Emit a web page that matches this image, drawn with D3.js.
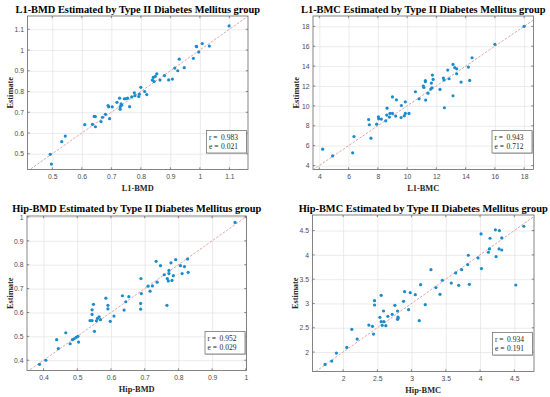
<!DOCTYPE html>
<html>
<head>
<meta charset="utf-8">
<script src="https://cdn.jsdelivr.net/npm/d3@7"></script>
<style>
  body { margin: 0; background: #fff; }
  .tick text { font-family: "Liberation Sans", Arial, sans-serif; font-size: 6.8px; fill: #4d4d4d; }
  .title { font-family: "Liberation Serif", "Times New Roman", serif; font-weight: bold; font-size: 10.4px; fill: #000; }
  .axis-label { font-family: "Liberation Serif", "Times New Roman", serif; font-weight: bold; font-size: 8.4px; fill: #262626; }
  .stat { font-family: "Liberation Serif", "Times New Roman", serif; font-size: 7.5px; fill: #262626; }
</style>
</head>
<body>
<div class="chart"></div>
<script>
// L1-BMD
const l1BmdMeasured = [1.099,1.008,0.988,0.989,1.032,0.996,0.978,0.930,0.947,0.915,0.925,0.907,0.894,0.880,0.865,0.854,0.849,0.842,0.839,0.845,0.800,0.813,0.820,0.795,0.793,0.778,0.780,0.769,0.755,0.749,0.744,0.728,0.719,0.733,0.735,0.730,0.762,0.730,0.703,0.689,0.691,0.694,0.680,0.670,0.665,0.642,0.646,0.636,0.646,0.610,0.544,0.532,0.493,0.497];
const l1BmdEstimate = [1.116,1.031,1.018,1.016,1.019,0.990,0.960,0.956,0.915,0.913,0.900,0.860,0.856,0.877,0.855,0.885,0.873,0.868,0.855,0.848,0.820,0.800,0.785,0.787,0.776,0.794,0.780,0.774,0.768,0.765,0.765,0.768,0.748,0.740,0.734,0.727,0.727,0.715,0.726,0.732,0.726,0.669,0.690,0.676,0.655,0.680,0.679,0.642,0.630,0.640,0.585,0.558,0.497,0.450];
// L1-BMC
const l1BmcMeasured = [18.0,16.0,14.44,14.19,13.14,13.26,13.39,13.39,12.78,12.87,12.48,12.53,13.69,14.28,13.14,12.55,12.25,11.73,11.78,11.66,11.70,11.62,11.43,11.25,11.25,11.11,11.15,11.27,10.82,10.57,9.88,9.61,9.27,9.0,9.88,10.13,9.81,9.59,9.22,9.0,8.83,8.79,8.63,8.61,8.54,8.04,8.06,8.24,7.92,7.42,7.37,7.53,6.37,6.28,4.91,4.23];
const l1BmcEstimate = [18.0,16.19,14.84,13.9,14.17,13.84,13.73,13.23,13.6,12.73,12.8,12.6,12.39,12.56,11.02,9.81,11.65,13.1,12.66,12.29,11.82,11.69,11.28,12.53,12.43,11.99,11.86,10.58,10.71,11.42,10.41,10.04,10.61,10.9,9.24,9.24,9.0,8.83,8.97,9.24,9.24,8.87,9.77,9.07,8.5,8.9,8.7,8.67,8.16,8.1,8.63,6.75,6.92,5.28,4.97,5.64];
// Hip-BMD
const hipBmdMeasured = [0.968,0.734,0.747,0.778,0.792,0.806,0.818,0.827,0.811,0.829,0.772,0.772,0.785,0.781,0.767,0.770,0.758,0.766,0.737,0.723,0.710,0.716,0.690,0.689,0.688,0.688,0.653,0.644,0.634,0.639,0.609,0.598,0.591,0.591,0.585,0.569,0.565,0.560,0.557,0.548,0.544,0.544,0.544,0.538,0.551,0.502,0.497,0.491,0.486,0.504,0.479,0.466,0.439,0.444,0.407,0.388];
const hipBmdEstimate = [0.977,0.814,0.796,0.808,0.821,0.796,0.792,0.824,0.763,0.768,0.776,0.763,0.754,0.734,0.742,0.732,0.758,0.630,0.727,0.711,0.710,0.689,0.679,0.742,0.638,0.614,0.666,0.645,0.670,0.610,0.585,0.563,0.630,0.615,0.660,0.570,0.582,0.575,0.565,0.634,0.611,0.592,0.566,0.566,0.521,0.500,0.496,0.490,0.486,0.476,0.469,0.515,0.486,0.449,0.400,0.383];
// Hip-BMC
const hipBmcMeasured = [4.639,4.224,4.283,4.015,4.146,4.317,4.137,4.278,4.317,4.122,4.234,3.829,3.971,3.820,4.020,3.732,3.283,3.644,3.449,3.580,3.688,3.844,4.522,3.356,3.132,3.415,3.200,3.054,2.980,2.898,2.883,2.956,2.756,2.795,2.717,2.654,2.590,2.800,2.805,2.795,2.556,2.459,2.459,2.537,2.556,2.595,2.571,2.624,2.429,2.376,2.444,3.112,2.127,2.205,2.054,1.902,1.834,1.737];
const hipBmcEstimate = [4.589,4.514,4.500,4.431,4.342,4.349,4.122,4.122,4.100,4.054,3.964,3.992,3.937,3.800,3.717,3.696,3.696,3.628,3.477,3.420,3.374,3.394,3.380,3.326,3.387,3.188,2.975,3.181,3.222,3.243,3.044,2.872,2.962,2.845,2.776,2.735,2.845,2.720,2.700,2.673,3.168,3.058,2.968,2.714,2.625,2.625,2.550,2.543,2.529,2.556,2.371,2.646,2.467,2.268,2.096,1.979,1.815,1.746];

const stats = [
  {r: '0.983', e: '0.021'},
  {r: '0.943', e: '0.712'},
  {r: '0.952', e: '0.029'},
  {r: '0.934', e: '0.191'},
];

const panels = [
  {title: 'L1-BMD Estimated by Type II Diabetes Mellitus group', xLabel: 'L1-BMD', xs: l1BmdMeasured, ys: l1BmdEstimate,
   xDomain: [0.416, 1.163], yDomain: [0.424, 1.164], ticks: d3.range(0.5, 1.15, 0.1), box: [27.5, 16, 248, 169.5], titleY: 12.5},
  {title: 'L1-BMC Estimated by Type II Diabetes Mellitus group', xLabel: 'L1-BMC', xs: l1BmcMeasured, ys: l1BmcEstimate,
   xDomain: [3.57, 18.64], yDomain: [3.6, 19.04], ticks: d3.range(4, 19, 2), box: [313, 16, 533.5, 169.5], titleY: 12.5},
  {title: 'Hip-BMD Estimated by Type II Diabetes Mellitus group', xLabel: 'Hip-BMD', xs: hipBmdMeasured, ys: hipBmdEstimate,
   xDomain: [0.351, 1.002], yDomain: [0.357, 1.004], ticks: d3.range(0.4, 1.05, 0.1), box: [27, 216, 246.5, 370.5], titleY: 211.5},
  {title: 'Hip-BMC Estimated by Type II Diabetes Mellitus group', xLabel: 'Hip-BMC', xs: hipBmcMeasured, ys: hipBmcEstimate,
   xDomain: [1.553, 4.788], yDomain: [1.60, 4.82], ticks: d3.range(2, 4.6, 0.5), box: [312.5, 215, 534, 371.5], titleY: 211.5},
];

const width = 550;
const height = 397;

const svg = d3.select('.chart').append('svg')
  .attr('width', width)
  .attr('height', height);

const fmt = d => String(+d.toFixed(2));

panels.forEach((p, i) => {
  const [x0, y0, x1, y1] = p.box;
  const x = d3.scaleLinear().domain(p.xDomain).range([x0, x1]);
  const y = d3.scaleLinear().domain(p.yDomain).range([y1, y0]);
  const g = svg.append('g');

  // grid + tick labels
  g.append('g')
    .attr('transform', `translate(0,${y1})`)
    .call(d3.axisBottom(x).tickValues(p.ticks).tickFormat(fmt).tickSize(-(y1 - y0)).tickPadding(4.5))
    .call(a => a.select('.domain').remove())
    .call(a => a.selectAll('.tick line').attr('stroke', '#e3e3e3').attr('stroke-width', 0.7));
  g.append('g')
    .attr('transform', `translate(${x0},0)`)
    .call(d3.axisLeft(y).tickValues(p.ticks).tickFormat(fmt).tickSize(-(x1 - x0)).tickPadding(3.5))
    .call(a => a.select('.domain').remove())
    .call(a => a.selectAll('.tick line').attr('stroke', '#e3e3e3').attr('stroke-width', 0.7));

  // inward tick marks on all four sides
  const tl = 2.2;
  const tickG = g.append('g').attr('stroke', '#555').attr('stroke-width', 0.7);
  p.ticks.forEach(t => {
    if (x(t) >= x0 && x(t) <= x1) {
      tickG.append('line').attr('x1', x(t)).attr('x2', x(t)).attr('y1', y1).attr('y2', y1 - tl);
      tickG.append('line').attr('x1', x(t)).attr('x2', x(t)).attr('y1', y0).attr('y2', y0 + tl);
    }
    if (y(t) >= y0 && y(t) <= y1) {
      tickG.append('line').attr('y1', y(t)).attr('y2', y(t)).attr('x1', x0).attr('x2', x0 + tl);
      tickG.append('line').attr('y1', y(t)).attr('y2', y(t)).attr('x1', x1).attr('x2', x1 - tl);
    }
  });

  // identity line
  const clipId = 'clip' + i;
  g.append('clipPath').attr('id', clipId)
    .append('rect').attr('x', x0).attr('y', y0).attr('width', x1 - x0).attr('height', y1 - y0);
  const lo = Math.min(p.xDomain[0], p.yDomain[0]);
  const hi = Math.max(p.xDomain[1], p.yDomain[1]);
  g.append('line')
    .attr('clip-path', `url(#${clipId})`)
    .attr('x1', x(lo)).attr('y1', y(lo))
    .attr('x2', x(hi)).attr('y2', y(hi))
    .attr('stroke', '#d4908f')
    .attr('stroke-width', 0.8)
    .attr('stroke-dasharray', '2.5,1.5');

  // points
  g.selectAll('.pt')
    .data(p.xs.map((v, k) => [v, p.ys[k]]))
    .enter()
    .append('circle')
    .attr('class', 'pt')
    .attr('cx', d => x(d[0]))
    .attr('cy', d => y(d[1]))
    .attr('r', 1.6)
    .attr('fill', '#1b8bcb');

  // box
  g.append('rect')
    .attr('x', x0).attr('y', y0)
    .attr('width', x1 - x0).attr('height', y1 - y0)
    .attr('fill', 'none')
    .attr('stroke', '#666')
    .attr('stroke-width', 0.8);

  // stats box
  const bw = 40, bh = 22.5;
  const bx = x1 - 1.5 - bw, by = y1 - 16.5 - bh;
  g.append('rect')
    .attr('x', bx + 0.8).attr('y', by + 0.8).attr('width', bw).attr('height', bh)
    .attr('fill', '#bbb');
  g.append('rect')
    .attr('x', bx).attr('y', by).attr('width', bw).attr('height', bh)
    .attr('fill', '#fff').attr('stroke', '#777').attr('stroke-width', 0.8);
  [['r =', stats[i].r], ['e =', stats[i].e]].forEach((row, k) => {
    g.append('text').attr('class', 'stat').attr('x', bx + 2.5).attr('y', by + 9 + k * 9).text(row[0]);
    g.append('text').attr('class', 'stat').attr('x', bx + 14.5).attr('y', by + 9 + k * 9).text(row[1]);
  });

  // title and labels
  g.append('text')
    .attr('class', 'title')
    .attr('x', (x0 + x1) / 2)
    .attr('y', p.titleY)
    .attr('text-anchor', 'middle')
    .text(p.title);
  g.append('text')
    .attr('class', 'axis-label')
    .attr('x', (x0 + x1) / 2)
    .attr('y', y1 + 21)
    .attr('text-anchor', 'middle')
    .text(p.xLabel);
  g.append('text')
    .attr('class', 'axis-label')
    .attr('transform', `translate(${x0 - 14.5},${(y0 + y1) / 2}) rotate(-90)`)
    .attr('text-anchor', 'middle')
    .text('Estimate');
});
</script>
</body>
</html>
